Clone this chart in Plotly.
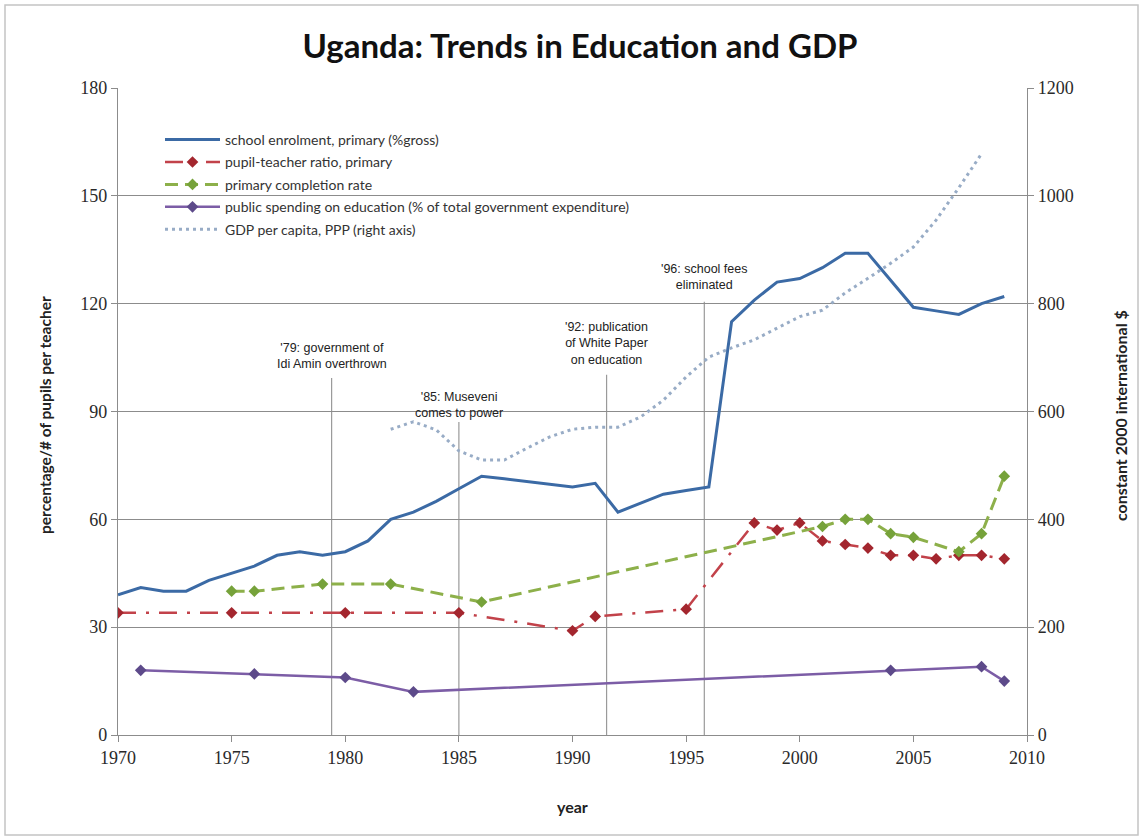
import plotly.graph_objects as go

# ---- data -------------------------------------------------------------
enrol_years = list(range(1970, 2010))
enrol = [39, 41, 40, 40, 43, 45, 47, 50, 51, 50,
         51, 54, 60, 62, 65, 68.5, 72, 71.3, 70.5, 69.7,
         69, 70, 62, 64.5, 67, 68, 69, 115, 121, 126,
         127, 130, 134, 134, 126.5, 119, 118, 117, 120, 122]

ptr_years = [1970, 1975, 1980, 1985, 1990, 1991, 1995, 1998, 1999, 2000,
             2001, 2002, 2003, 2004, 2005, 2006, 2007, 2008, 2009]
ptr = [34, 34, 34, 34, 29, 33, 35, 59, 57, 59,
       54, 53, 52, 50, 50, 49, 50, 50, 49]

completion_years = [1975, 1976, 1979, 1982, 1986, 2001, 2002, 2003, 2004,
                    2005, 2007, 2008, 2009]
completion = [40, 40, 42, 42, 37, 58, 60, 60, 56, 55, 51, 56, 72]

spending_years = [1971, 1976, 1980, 1983, 2004, 2008, 2009]
spending = [18, 17, 16, 12, 18, 19, 15]

gdp_years = list(range(1982, 2009))
gdp = [567, 581, 566, 527, 510, 510, 532, 553, 567, 571,
       571, 590, 621, 664, 701, 718, 733, 755, 776, 788,
       820, 847, 875, 905, 955, 1015, 1078]

# key events: year, label, height of label on left axis, top of marker line
events = [
    (1979.4, "'79: government of<br>Idi Amin overthrown", 105.5, 99.3),
    (1985.0, "'85: Museveni<br>comes to power", 91.8, 87.1),
    (1991.5, "'92: publication<br>of White Paper<br>on education", 109.0, 100.2),
    (1995.8, "'96: school fees<br>eliminated", 127.4, 120.5),
]

# ---- figure -----------------------------------------------------------
W, H = 1143, 840
ML, MR, MT, MB = 118, 116, 88, 105
PW, PH = W - ML - MR, H - MT - MB

fig = go.Figure()

fig.add_trace(go.Scatter(
    x=enrol_years, y=enrol, mode="lines",
    name="school enrolment, primary (%gross)",
    line=dict(color="#3b6aa5", width=3), legendgroup="a"))

fig.add_trace(go.Scatter(
    x=ptr_years, y=ptr, mode="lines+markers",
    name="pupil-teacher ratio, primary",
    line=dict(color="#c2424a", width=2.5, dash="18px,10px,3px,10px"),
    marker=dict(symbol="diamond", size=9, color="#a3262e"), legendgroup="b"))

fig.add_trace(go.Scatter(
    x=completion_years, y=completion, mode="lines+markers",
    name="primary completion rate",
    line=dict(color="#8db04a", width=3, dash="13px,7px"),
    marker=dict(symbol="diamond", size=9, color="#76a23a"), legendgroup="c"))

fig.add_trace(go.Scatter(
    x=spending_years, y=spending, mode="lines+markers",
    name="public spending on education (% of total government expenditure)",
    line=dict(color="#7c5da6", width=2.5),
    marker=dict(symbol="diamond", size=9, color="#5d4a8a"), legendgroup="d"))

fig.add_trace(go.Scatter(
    x=gdp_years, y=gdp, mode="lines", yaxis="y2",
    name="GDP per capita, PPP (right axis)",
    line=dict(color="#98acc6", width=3, dash="3px,4px"), legendgroup="e"))

shapes = []
annotations = []
for yr, label, ylab, ytop in events:
    shapes.append(dict(type="line", xref="x", yref="y", x0=yr, x1=yr,
                       y0=0, y1=ytop, line=dict(color="#9a9a9a", width=1.2),
                       layer="below"))
    annotations.append(dict(x=yr, y=ylab, xref="x", yref="y", text=label,
                            showarrow=False, align="center",
                            font=dict(family="Liberation Sans Narrow, Liberation Sans, Arial",
                                      size=12.5, color="#222222")))

# outer frame of the chart
shapes.append(dict(type="rect", xref="paper", yref="paper",
                   x0=(5 - ML) / PW, x1=(1138 - ML) / PW,
                   y0=(H - MB - 835) / PH, y1=(H - MB - 5) / PH,
                   line=dict(color="#c4c4c4", width=1.5), layer="below"))

# axis titles
title_font = dict(family="Lato", size=16, color="#222222", weight="bold")
annotations.append(dict(text="percentage/# of pupils per teacher", textangle=-90,
                        xref="paper", yref="paper", x=(45 - ML) / PW, y=(H - MB - 415) / PH,
                        xanchor="center", yanchor="middle", showarrow=False,
                        font=dict(title_font, size=15.5)))
annotations.append(dict(text="constant 2000 international $", textangle=-90,
                        xref="paper", yref="paper", x=(1120 - ML) / PW, y=(H - MB - 416) / PH,
                        xanchor="center", yanchor="middle", showarrow=False, font=title_font))
annotations.append(dict(text="year", xref="paper", yref="paper",
                        x=(572 - ML) / PW, y=(H - MB - 806) / PH,
                        xanchor="center", yanchor="middle", showarrow=False, font=title_font))

tickfont = dict(family="Liberation Serif", size=18, color="#2a2a2a")
axis_col = "#8c8c8c"

fig.update_layout(
    width=W, height=H,
    margin=dict(l=ML, r=MR, t=MT, b=MB),
    paper_bgcolor="white", plot_bgcolor="white",
    title=dict(text="<b>Uganda: Trends in Education and GDP</b>",
               x=580 / W, xanchor="center", y=1 - 46 / H, yanchor="middle",
               font=dict(family="Lato", size=33, color="#111111")),
    xaxis=dict(range=[1970, 2010], dtick=5, tick0=1970, showgrid=False,
               zeroline=False, showline=True, linecolor=axis_col, linewidth=1.2,
               ticks="outside", ticklen=6, tickcolor=axis_col, tickfont=tickfont),
    yaxis=dict(range=[0, 180], dtick=30, showgrid=True, gridcolor=axis_col,
               gridwidth=1, zeroline=False, showline=True, linecolor=axis_col,
               linewidth=1.2, ticks="outside", ticklen=6, tickcolor=axis_col,
               tickfont=tickfont),
    yaxis2=dict(range=[0, 1200], dtick=200, overlaying="y", side="right",
                showgrid=False, zeroline=False, showline=True, linecolor=axis_col,
                linewidth=1.2, ticks="outside", ticklen=6, tickcolor=axis_col,
                tickfont=tickfont),
    legend=dict(x=(160 - ML) / PW, y=(H - MB - 124) / PH, xanchor="left", yanchor="top",
                bgcolor="rgba(0,0,0,0)", tracegroupgap=1.2, itemwidth=55,
                font=dict(family="Lato", size=14, color="#333333")),
    shapes=shapes, annotations=annotations,
)

fig.write_html("out.html")
